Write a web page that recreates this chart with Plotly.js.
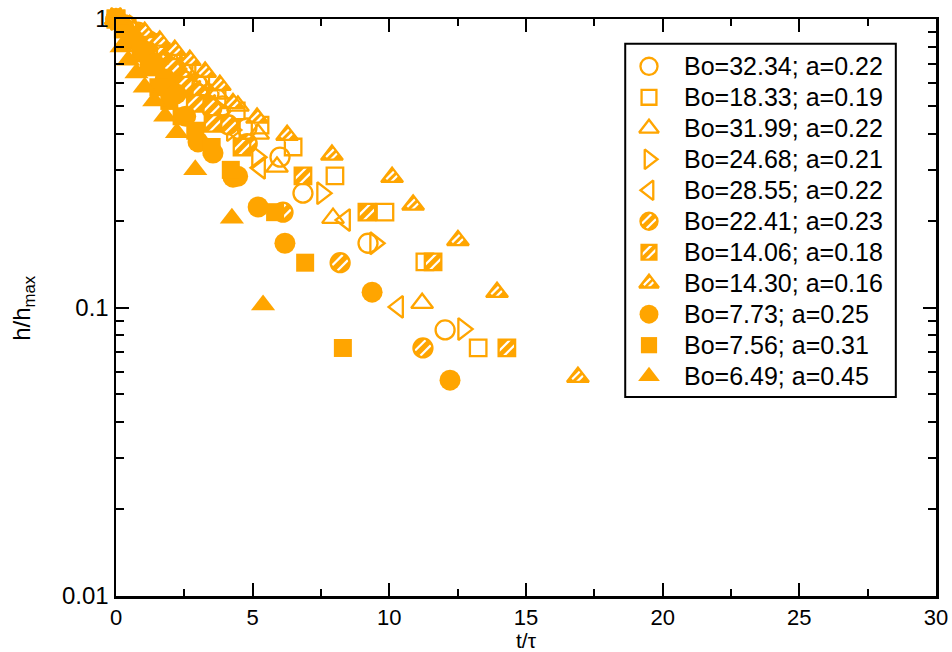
<!DOCTYPE html>
<html><head><meta charset="utf-8">
<script src="https://cdn.plot.ly/plotly-3.0.1.min.js"></script>
<style>body{margin:0;background:#fff}#chart{width:952px;height:652px}</style>
</head><body><div id="chart"></div>
<script>
// ---- data ----
const seriesLabels = ["Bo=32.34; a=0.22","Bo=18.33; a=0.19","Bo=31.99; a=0.22","Bo=24.68; a=0.21","Bo=28.55; a=0.22","Bo=22.41; a=0.23","Bo=14.06; a=0.18","Bo=14.30; a=0.16","Bo=7.73; a=0.25","Bo=7.56; a=0.31","Bo=6.49; a=0.45"];

const t_Bo3234 = [0, 0.4, 0.8, 1.2, 1.6, 2.0, 2.45, 2.96, 3.4, 3.9, 4.79, 6.0, 6.84, 9.22, 12.04];
const h_Bo3234 = [1, 0.95, 0.90, 0.84, 0.79, 0.74, 0.68, 0.60, 0.55, 0.50, 0.419, 0.332, 0.249, 0.167, 0.0836];

const t_Bo1833 = [0, 0.4, 0.8, 1.2, 1.65, 2.1, 2.6, 3.1, 3.7, 4.4, 5.27, 6.48, 8.01, 9.84, 11.3, 13.25];
const h_Bo1833 = [1, 0.94, 0.89, 0.83, 0.77, 0.71, 0.65, 0.59, 0.53, 0.48, 0.429, 0.36, 0.286, 0.214, 0.144, 0.0724];

const t_Bo3199 = [0, 0.4, 0.8, 1.2, 1.65, 2.1, 2.6, 3.1, 3.7, 4.46, 5.2, 5.89, 7.94, 11.2];
const h_Bo3199 = [1, 0.95, 0.89, 0.83, 0.77, 0.71, 0.65, 0.60, 0.55, 0.50, 0.40, 0.307, 0.204, 0.1035];

const t_Bo2468 = [0, 0.4, 0.8, 1.2, 1.6, 2.05, 2.5, 3.0, 3.6, 4.24, 5.16, 7.54, 9.48, 12.7];
const h_Bo2468 = [1, 0.94, 0.87, 0.81, 0.75, 0.69, 0.63, 0.57, 0.50, 0.412, 0.332, 0.249, 0.167, 0.0842];

const t_Bo2855 = [0, 0.35, 0.7, 1.1, 1.5, 1.95, 2.4, 2.9, 3.45, 4.35, 5.27, 8.38, 10.32];
const h_Bo2855 = [1, 0.94, 0.88, 0.82, 0.75, 0.69, 0.62, 0.56, 0.50, 0.41, 0.305, 0.201, 0.1005];

const t_Bo2241 = [0, 0.4, 0.8, 1.2, 1.6, 2.0, 2.5, 3.0, 3.5, 4.1, 4.8, 6.11, 8.2, 11.23];
const h_Bo2241 = [1, 0.93, 0.86, 0.80, 0.74, 0.68, 0.61, 0.55, 0.49, 0.43, 0.37, 0.214, 0.143, 0.0724];

const t_Bo1406 = [0, 0.4, 0.8, 1.2, 1.6, 2.05, 2.5, 2.9, 3.55, 4.61, 6.84, 9.18, 11.6, 14.3];
const h_Bo1406 = [1, 0.94, 0.88, 0.81, 0.75, 0.68, 0.59, 0.51, 0.435, 0.36, 0.286, 0.214, 0.144, 0.0724];

const t_Bo1430 = [0, 0.5, 1.05, 1.6, 2.15, 2.7, 3.26, 3.8, 4.28, 5.16, 6.26, 7.9, 10.1, 10.87, 12.51, 13.94, 16.9];
const h_Bo1430 = [1, 0.95, 0.90, 0.84, 0.78, 0.72, 0.655, 0.59, 0.51, 0.454, 0.396, 0.338, 0.283, 0.227, 0.171, 0.113, 0.0574];

const t_Bo773 = [0, 0.3, 0.65, 1.0, 1.4, 1.8, 2.2, 2.55, 3.0, 3.55, 4.28, 4.45, 5.2, 6.18, 9.37, 12.22];
const h_Bo773 = [1, 0.93, 0.85, 0.78, 0.70, 0.62, 0.55, 0.46, 0.375, 0.343, 0.283, 0.285, 0.223, 0.167, 0.113, 0.056];

const t_Bo756 = [0, 0.25, 0.55, 0.9, 1.2, 1.55, 1.95, 2.4, 2.9, 3.5, 4.2, 5.82, 6.92, 8.3];
const h_Bo756 = [1, 0.92, 0.84, 0.76, 0.68, 0.58, 0.52, 0.46, 0.41, 0.36, 0.30, 0.214, 0.143, 0.0724];

const t_Bo649 = [0, 0.2, 0.45, 0.75, 1.05, 1.4, 1.8, 2.23, 2.9, 4.24, 5.38];
const h_Bo649 = [1, 0.80, 0.72, 0.65, 0.58, 0.52, 0.46, 0.403, 0.30, 0.204, 0.102];

const xTickVals = [0, 5, 10, 15, 20, 25, 30];
const yTickVals = [0.01, 0.1, 1];
const yTickText = ["0.01", "0.1", "1"];
const xTitle = "t/τ";
const yTitle = "h/h<sub>max</sub>";

// ---- styling ----
const ORANGE = "#FFA500";
const xs = [t_Bo3234, t_Bo1833, t_Bo3199, t_Bo2468, t_Bo2855, t_Bo2241, t_Bo1406, t_Bo1430, t_Bo773, t_Bo756, t_Bo649];
const ys = [h_Bo3234, h_Bo1833, h_Bo3199, h_Bo2468, h_Bo2855, h_Bo2241, h_Bo1406, h_Bo1430, h_Bo773, h_Bo756, h_Bo649];
const styles = [
  {sym: "circle", kind: "open", size: 19},
  {sym: "square", kind: "open", size: 16.5},
  {sym: "triangle-up", kind: "open", size: 19},
  {sym: "triangle-right", kind: "open", size: 19},
  {sym: "triangle-left", kind: "open", size: 19},
  {sym: "circle", kind: "hatch", size: 19, so: 3.7, sl: 10.5},
  {sym: "square", kind: "hatch", size: 16.5, so: 3.5, sl: 12},
  {sym: "triangle-up", kind: "hatch", size: 19, so: 2.6, sl: 8},
  {sym: "circle", kind: "filled", size: 21},
  {sym: "square", kind: "filled", size: 18},
  {sym: "triangle-up", kind: "filled", size: 21}
];

function makeTraces(x, y, st, scale, xa, ya) {
  const s = st.size * scale;
  const base = {x: x, y: y, mode: "markers", type: "scatter", showlegend: false,
    hoverinfo: "skip", cliponaxis: false, xaxis: xa, yaxis: ya};
  const out = [];
  if (st.kind === "open") {
    out.push(Object.assign({}, base, {marker: {symbol: st.sym + "-open", size: s, color: ORANGE,
      line: {color: ORANGE, width: 2.3}}}));
  } else if (st.kind === "filled") {
    out.push(Object.assign({}, base, {marker: {symbol: st.sym, size: s, color: ORANGE, line: {width: 0}}}));
  } else {
    out.push(Object.assign({}, base, {marker: {symbol: st.sym, size: s, color: ORANGE, line: {width: 0}}}));
    [-45, 135].forEach(a => {
      out.push(Object.assign({}, base, {marker: {symbol: "line-ew", size: st.sl * scale, angle: a,
        standoff: st.so * scale, color: "white", line: {color: "white", width: 2.2}}}));
    });
    out.push(Object.assign({}, base, {marker: {symbol: st.sym + "-open", size: s, color: ORANGE,
      line: {color: ORANGE, width: 2.3}}}));
  }
  return out;
}

let traces = [];
for (let i = 0; i < xs.length; i++) traces = traces.concat(makeTraces(xs[i], ys[i], styles[i], 1, "x", "y"));

const fontFam = "Liberation Sans, Arial, sans-serif";

// custom legend (plot-area fraction coordinates on an overlay axis)
const legX = 0.65, legTop = 0.918, legStep = 0.0537;
const annotations = [];
for (let i = 0; i < seriesLabels.length; i++) {
  const yy = legTop - i * legStep;
  traces = traces.concat(makeTraces([legX], [yy], styles[i], 0.9, "x2", "y2"));
  annotations.push({xref: "paper", yref: "paper", x: 0.69, y: yy, xanchor: "left", yanchor: "middle",
    text: seriesLabels[i], showarrow: false, font: {family: fontFam, size: 25, color: "#000"}});
}
annotations.push({xref: "paper", yref: "paper", x: 0.5, y: -0.053, xanchor: "center", yanchor: "top",
  text: xTitle, showarrow: false, font: {family: fontFam, size: 21, color: "#000"}});
annotations.push({xref: "paper", yref: "paper", x: -0.113, y: 0.5, xanchor: "center", yanchor: "middle",
  textangle: -90, text: yTitle, showarrow: false, font: {family: fontFam, size: 24, color: "#000"}});

const layout = {
  width: 952, height: 652,
  margin: {l: 116, r: 16, t: 19, b: 56},
  paper_bgcolor: "#fff", plot_bgcolor: "#fff",
  showlegend: false,
  font: {family: fontFam, color: "#000"},
  xaxis: {range: [0, 30], tickvals: xTickVals, ticks: "inside", ticklen: 13, tickwidth: 2, tickcolor: "#000",
    showline: true, linewidth: 2.5, linecolor: "#000", mirror: "ticks", showgrid: false, zeroline: false,
    minor: {dtick: 2.5, ticks: "inside", ticklen: 7, tickwidth: 2, tickcolor: "#000", showgrid: false},
    tickfont: {size: 22, family: fontFam}},
  yaxis: {type: "log", range: [-2, 0], tickvals: yTickVals, ticktext: yTickText, ticks: "inside", ticklen: 13,
    tickwidth: 2, tickcolor: "#000", showline: true, linewidth: 2.5, linecolor: "#000", mirror: "ticks",
    showgrid: false, zeroline: false,
    minor: {dtick: "D1", ticks: "inside", ticklen: 8, tickwidth: 2, tickcolor: "#000", showgrid: false},
    tickfont: {size: 24, family: fontFam}},
  xaxis2: {overlaying: "x", range: [0, 1], visible: false, fixedrange: true},
  yaxis2: {overlaying: "y", range: [0, 1], visible: false, fixedrange: true},
  shapes: [{type: "rect", xref: "paper", yref: "paper", x0: 0.621, x1: 0.951, y0: 0.345, y1: 0.957,
    line: {color: "#000", width: 2}, fillcolor: "rgba(0,0,0,0)", layer: "below"}],
  annotations: annotations
};

Plotly.newPlot("chart", traces, layout, {staticPlot: true, displayModeBar: false});
</script>
</body></html>
